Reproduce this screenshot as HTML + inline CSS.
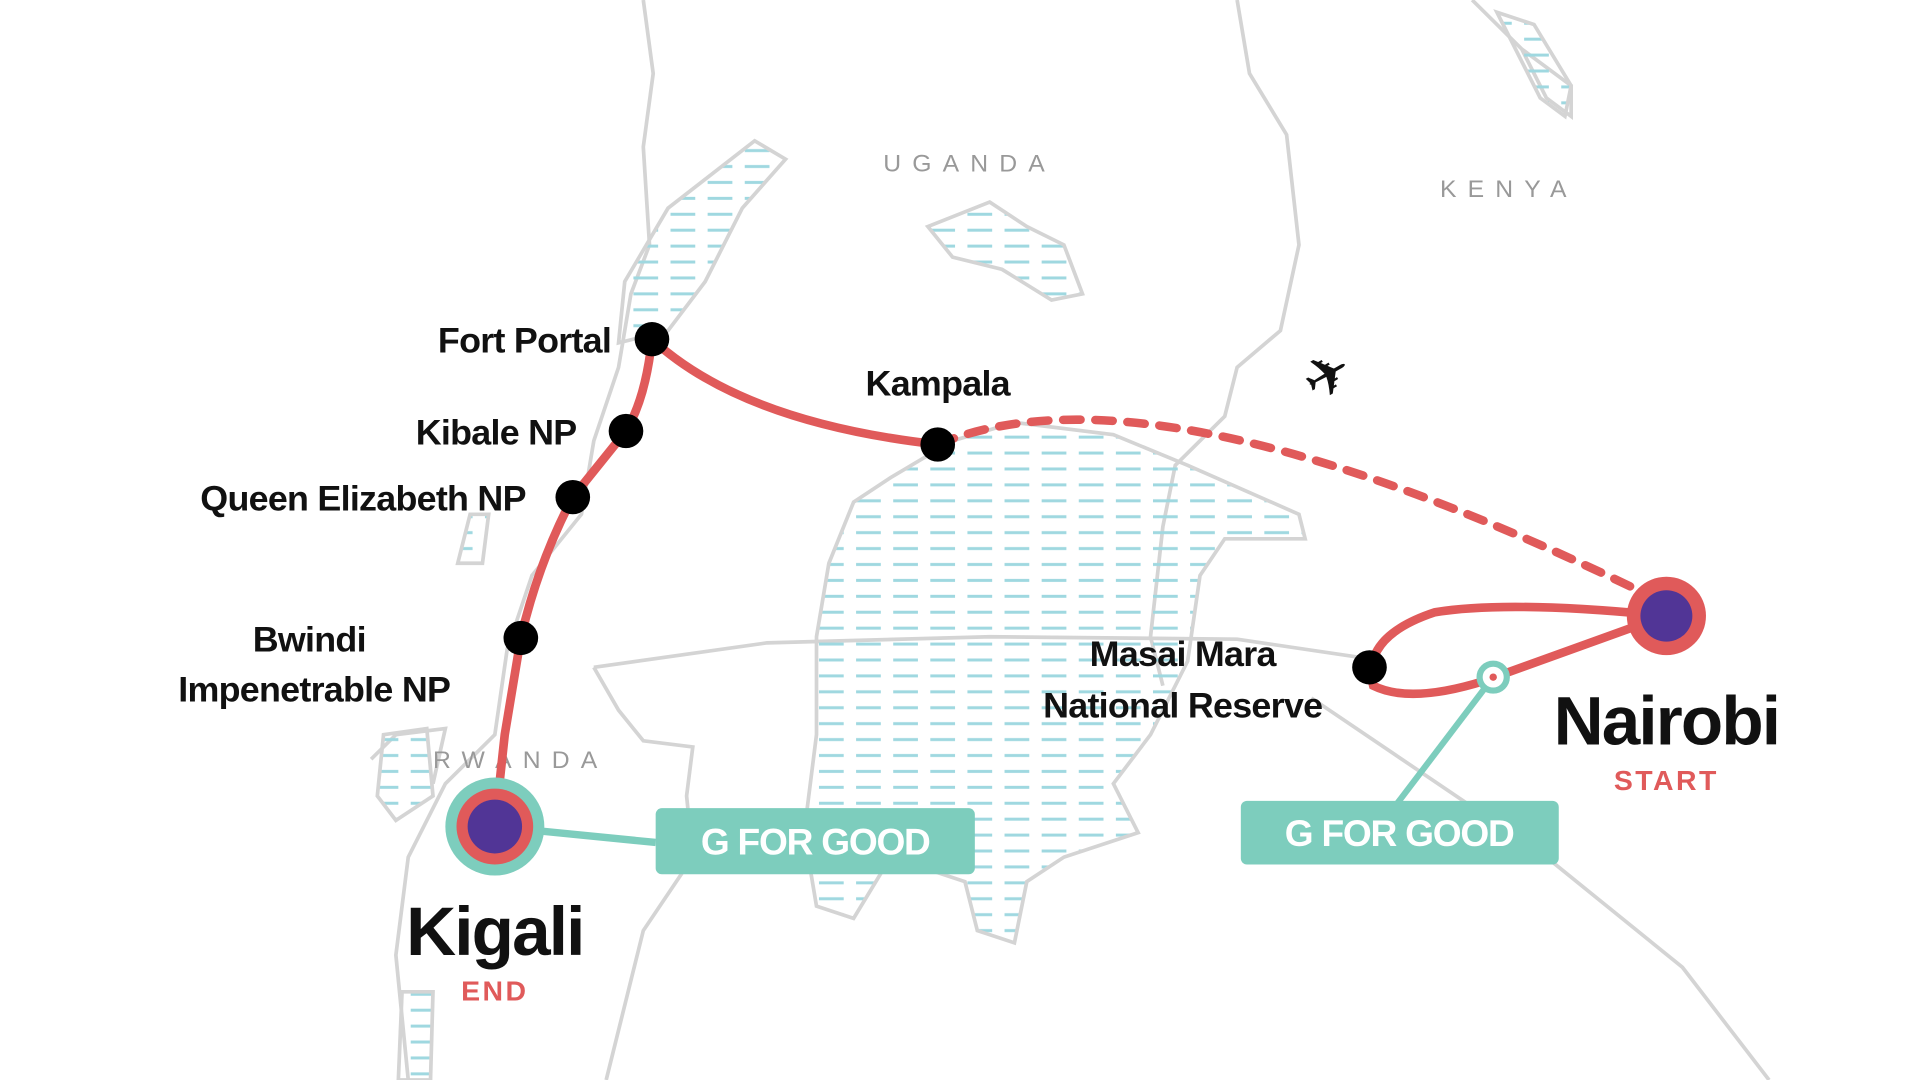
<!DOCTYPE html>
<html><head><meta charset="utf-8"><style>
html,body{margin:0;padding:0;background:#fff;}
svg{display:block}
text{font-family:"Liberation Sans",sans-serif;}
</style></head><body>
<svg width="1920" height="1080" viewBox="0 0 1552 882" preserveAspectRatio="none" xmlns="http://www.w3.org/2000/svg">
<defs>
<pattern id="h" width="30" height="13" patternUnits="userSpaceOnUse">
<line x1="2" y1="6" x2="22" y2="6" stroke="#9fd8e0" stroke-width="2.5"/>
</pattern>
</defs>
<g fill="none" stroke="#d4d4d4" stroke-width="3">
<path d="M520 0 L528 60 L520 120 L525 200 L510 240 L500 300 L480 360 L470 420 L430 470 L410 530 L400 600 L360 640 L330 700 L320 780 L330 882"/>
<path d="M1000 0 L1010 60 L1040 110 L1050 200 L1035 270 L1000 300 L990 340 L950 380 L940 430 L930 520 L940 560"/>
<path d="M1190 0 L1230 40 L1270 70 L1270 95 L1250 80 L1230 40"/>
<path d="M480 545 L620 525 L800 520 L1000 522 L1120 540"/>
<path d="M1060 570 L1250 700 L1360 790 L1430 882"/>
<path d="M480 545 L500 580 L520 605 L560 610 L555 650 L560 700 L520 760 L490 882"/>
<path d="M300 620 L320 600 L360 595 L350 640"/>
</g>
<g fill="url(#h)" stroke="#d4d4d4" stroke-width="3">
<path d="M610 115 L635 130 L600 170 L570 230 L540 270 L500 280 L505 230 L540 170 Z"/>
<path d="M750 185 L800 165 L830 185 L860 200 L875 240 L850 245 L810 220 L770 210 Z"/>
<path d="M770 360 L820 345 L900 355 L960 380 L1050 420 L1055 440 L990 440 L970 470 L960 540 L930 600 L900 640 L920 680 L860 700 L830 720 L820 770 L790 760 L780 720 L720 700 L690 750 L660 740 L650 680 L660 600 L660 520 L670 460 L690 410 L720 390 Z"/>
<path d="M380 420 L395 420 L390 460 L370 460 Z"/>
<path d="M310 600 L345 595 L350 650 L320 670 L305 650 Z"/>
<path d="M1210 10 L1240 20 L1270 70 L1265 95 L1245 80 Z"/>
<path d="M325 810 L350 810 L348 882 L322 882 Z"/>
</g>
<g font-size="20" fill="#999" letter-spacing="9">
<text x="714" y="140">UGANDA</text>
<text x="1164" y="161">KENYA</text>
<text x="350" y="627">RWANDA</text>
</g>
<g fill="none" stroke="#e05a5a" stroke-width="7" stroke-linecap="round">
<path d="M400 675 L408 600 L421 521 Q435 460 463 406 L506 352 Q522 325 527 277 Q600 345 758 363"/>
<path d="M758 363 Q930 290 1320 480" stroke-dasharray="14 12"/>
<path d="M1347 503 Q1220 490 1160 500 Q1100 520 1110 560 Q1140 575 1200 556 L1340 505"/>
</g>
<path d="M400 675 L530 688" stroke="#7dcdbd" stroke-width="6"/>
<path d="M1207 553 L1125 662" stroke="#7dcdbd" stroke-width="5"/>
<circle cx="1207" cy="553" r="11" fill="#fff" stroke="#7dcdbd" stroke-width="5"/>
<circle cx="1207" cy="553" r="3" fill="#e05a5a"/>
<circle cx="400" cy="675" r="40" fill="#7dcdbd"/>
<circle cx="400" cy="675" r="31" fill="#e05a5a"/>
<circle cx="400" cy="675" r="22" fill="#513596"/>
<circle cx="1347" cy="503" r="32" fill="#e05a5a"/>
<circle cx="1347" cy="503" r="21" fill="#513596"/>
<rect x="530" y="660" width="258" height="54" rx="5" fill="#7dcdbd"/>
<rect x="1003" y="654" width="257" height="52" rx="5" fill="#7dcdbd"/>
<g font-size="30" font-weight="bold" fill="#fff" letter-spacing="-1">
<text x="659" y="698" text-anchor="middle">G FOR GOOD</text>
<text x="1131" y="691" text-anchor="middle">G FOR GOOD</text>
</g>
<g fill="#000">
<circle cx="527" cy="277" r="14"/><circle cx="506" cy="352" r="14"/><circle cx="463" cy="406" r="14"/>
<circle cx="421" cy="521" r="14"/><circle cx="758" cy="363" r="14"/><circle cx="1107" cy="545" r="14"/>
</g>
<g font-size="29" font-weight="bold" fill="#111" letter-spacing="-0.6">
<text x="494" y="288" text-anchor="end">Fort Portal</text>
<text x="466" y="363" text-anchor="end">Kibale NP</text>
<text x="425" y="417" text-anchor="end">Queen Elizabeth NP</text>
<text x="250" y="532" text-anchor="middle">Bwindi</text>
<text x="254" y="573" text-anchor="middle">Impenetrable NP</text>
<text x="758" y="323" text-anchor="middle">Kampala</text>
<text x="956" y="544" text-anchor="middle">Masai Mara</text>
<text x="956" y="586" text-anchor="middle">National Reserve</text>
</g>
<g font-weight="bold">
<text x="400" y="780" font-size="56" text-anchor="middle" fill="#111" letter-spacing="-1.5">Kigali</text>
<text x="400" y="817" font-size="23" text-anchor="middle" fill="#e05a5a" letter-spacing="2">END</text>
<text x="1347" y="608" font-size="56" text-anchor="middle" fill="#111" letter-spacing="-1.5">Nairobi</text>
<text x="1347" y="645" font-size="23" text-anchor="middle" fill="#e05a5a" letter-spacing="2">START</text>
</g>
<text x="1075" y="322" font-size="46" text-anchor="middle" fill="#111" transform="rotate(-30 1075 310)">✈</text>
</svg>
</body></html>
